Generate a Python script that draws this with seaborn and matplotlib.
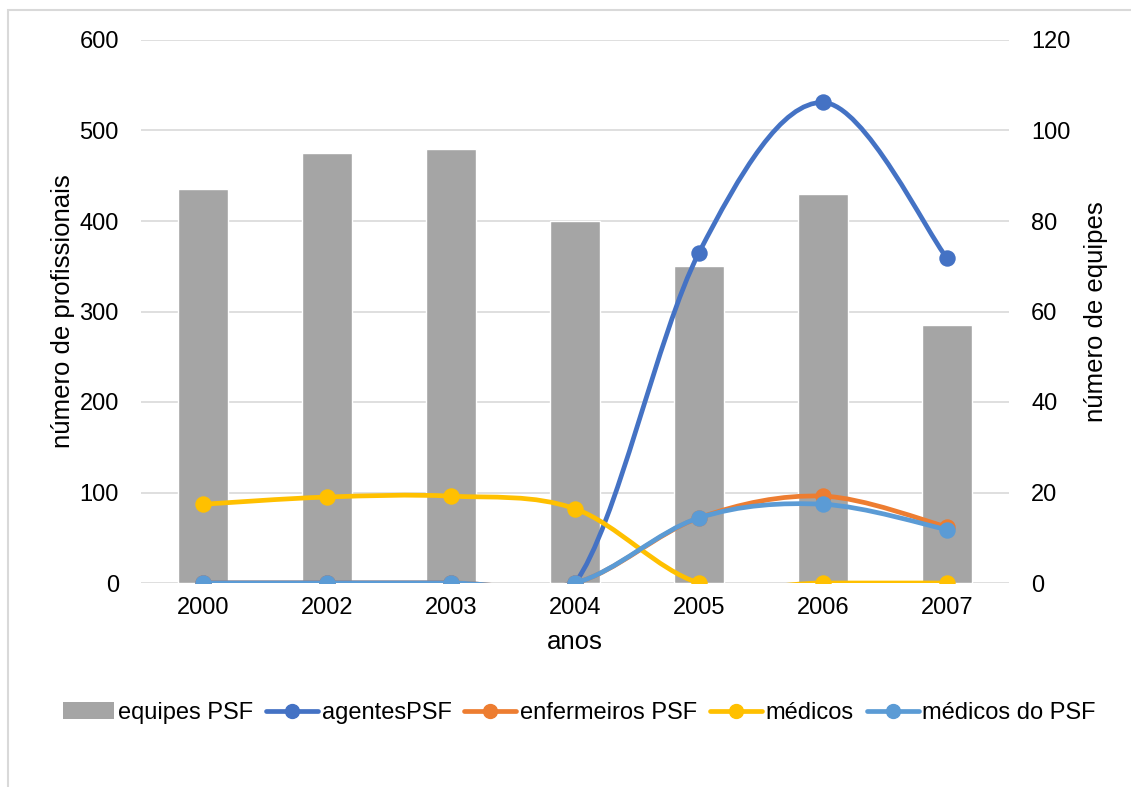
import numpy as np
import pandas as pd
import seaborn as sns
import matplotlib.pyplot as plt
from matplotlib.path import Path
from matplotlib.patches import PathPatch, Rectangle, Patch
from matplotlib.lines import Line2D

# dados
anos = ["2000", "2002", "2003", "2004", "2005", "2006", "2007"]
equipes_psf = [87, 95, 96, 80, 70, 86, 57]
agentes_psf = [0, 0, 0, 0, 365, 531, 359]
enfermeiros_psf = [0, 0, 0, 0, 72, 96, 62]
medicos = [87, 95, 96, 82, 0, 0, 0]
medicos_do_psf = [0, 0, 0, 0, 72, 87, 59]

series = [
    ("agentesPSF", agentes_psf, "#4472C4"),
    ("enfermeiros PSF", enfermeiros_psf, "#ED7D31"),
    ("médicos", medicos, "#FFC000"),
    ("médicos do PSF", medicos_do_psf, "#5B9BD5"),
]

sns.set_theme(style="white")
plt.rcParams['font.family'] = ['Liberation Sans', 'DejaVu Sans']
plt.rcParams['text.color'] = 'black'
plt.rcParams['axes.labelcolor'] = 'black'
plt.rcParams['xtick.color'] = 'black'
plt.rcParams['ytick.color'] = 'black'
FS = 17
FS_LAB = 18.5


def smooth_path(xs, ys):
    # curva suavizada tipo Excel (Bezier cúbica, Catmull-Rom)
    pts = np.column_stack([xs, ys]).astype(float)
    n = len(pts)
    verts = [pts[0]]
    codes = [Path.MOVETO]
    for i in range(n - 1):
        p_prev = pts[max(i - 1, 0)]
        p0 = pts[i]
        p1 = pts[i + 1]
        p_next = pts[min(i + 2, n - 1)]
        c1 = p0 + (p1 - p_prev) / 6.0
        c2 = p1 - (p_next - p0) / 6.0
        verts += [c1, c2, p1]
        codes += [Path.CURVE4] * 3
    return Path(verts, codes)


fig = plt.figure(figsize=(11.31, 7.87), dpi=100)
ax = fig.add_axes([141 / 1131, 1 - 583 / 787, 868 / 1131, 543 / 787])

# barras (eixo de equipes, à direita)
df_bar = pd.DataFrame({"ano": anos, "equipes": equipes_psf})
sns.barplot(data=df_bar, x="ano", y="equipes", color="#A5A5A5", saturation=1,
            width=0.4, ax=ax, zorder=2)
ax.set_ylim(0, 120)
ax.set_xlim(-0.5, len(anos) - 0.5)
ax.set_yticks(range(0, 121, 20))
ax.set_xlabel("anos", fontsize=FS_LAB, labelpad=8)
ax.grid(axis="y", color="#D9D9D9", linewidth=1.2, zorder=0)
ax.set_axisbelow(True)
ax.tick_params(axis="x", length=0, pad=10, labelsize=FS)
for s in ax.spines.values():
    s.set_visible(False)

# linhas (eixo de profissionais, à esquerda)
ax2 = ax.twinx()
ax2.set_ylim(0, 600)
ax2.set_yticks(range(0, 601, 100))
ax2.yaxis.tick_left()
ax2.yaxis.set_label_position("left")
ax2.set_ylabel("número de profissionais", fontsize=FS_LAB, labelpad=3)
ax2.tick_params(axis="y", length=0, pad=16, labelsize=FS)
for s in ax2.spines.values():
    s.set_visible(False)

ax.yaxis.tick_right()
ax.yaxis.set_label_position("right")
ax.set_ylabel("número de equipes", fontsize=FS_LAB, labelpad=10)
ax.tick_params(axis="y", length=0, pad=16, labelsize=FS,
               labelleft=False, labelright=True)

xpos = np.arange(len(anos))
for k, (nome, vals, cor) in enumerate(series):
    ax2.add_patch(PathPatch(smooth_path(xpos, vals), facecolor="none",
                            edgecolor=cor, linewidth=3.4, capstyle="round",
                            zorder=3 + k))
    sns.scatterplot(x=xpos, y=vals, color=cor, s=140, edgecolor=cor,
                    linewidth=0, ax=ax2, zorder=3.5 + k, legend=False)
ax2.set_xlim(-0.5, len(anos) - 0.5)

handles = [Patch(facecolor="#A5A5A5", edgecolor="none")]
for nome, vals, cor in series:
    handles.append(Line2D([], [], color=cor, linewidth=3.4, marker="o",
                          markersize=10, solid_capstyle="round"))
labels = ["equipes PSF"] + [s[0] for s in series]
fig.legend(handles, labels, loc="center", bbox_to_anchor=(0.512, 1 - 713 / 787),
           ncol=5, frameon=False, fontsize=FS, handlelength=2.2,
           handletextpad=0.15, columnspacing=0.55, handleheight=0.7)

# borda do gráfico
fig.patches.append(Rectangle((8 / 1131, -0.1), 1.2, 1 - 10 / 787 + 0.1,
                             transform=fig.transFigure, fill=False,
                             edgecolor="#D9D9D9", linewidth=1.5))

fig.savefig("out.png", dpi=100, facecolor="white")
